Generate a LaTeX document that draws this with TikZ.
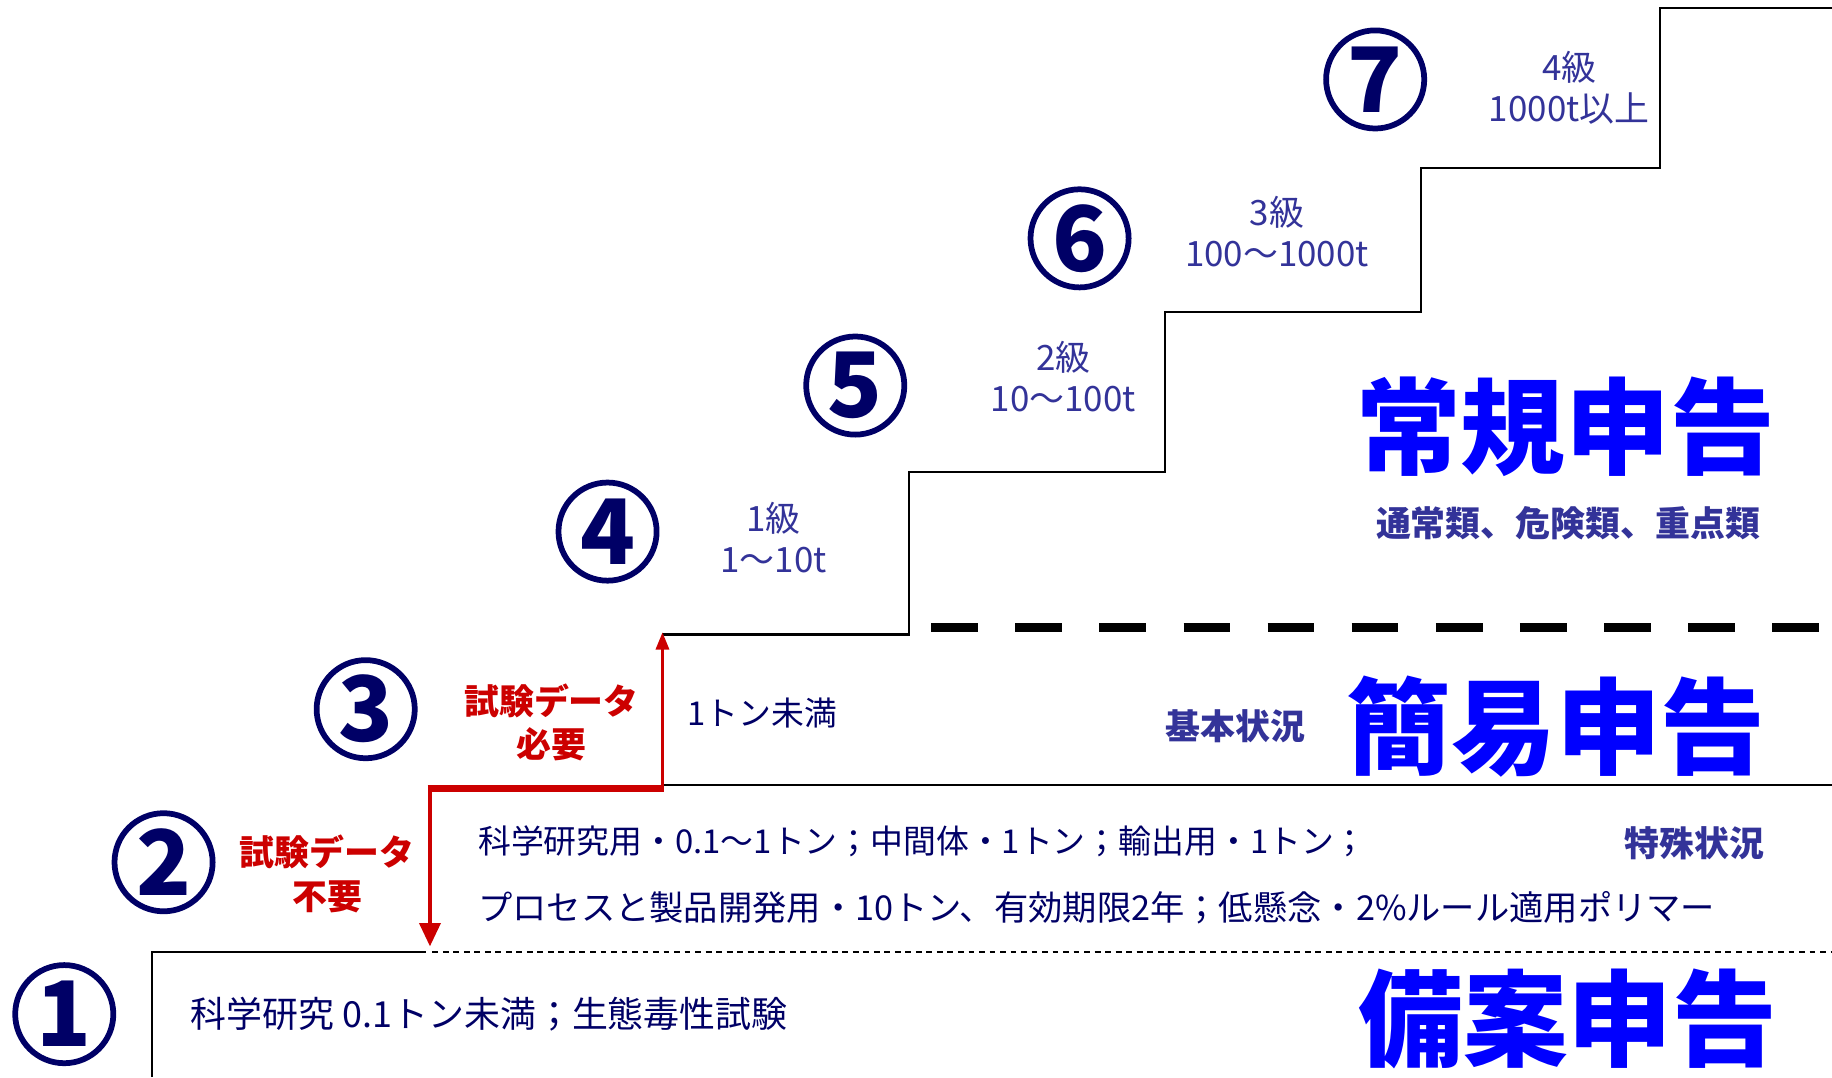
\documentclass[tikz,border=0pt]{standalone}
\usepackage{fontspec}
\setmainfont{Noto Sans CJK JP}
\usepackage{tikz}
\usetikzlibrary{positioning, arrows.meta}
\definecolor{navy}{HTML}{000066}
\definecolor{gradeblue}{HTML}{333399}
\definecolor{titleblue}{HTML}{0000FF}
\definecolor{warnred}{HTML}{CC0000}
\tikzstyle{num} = [circle, draw=navy, line width=2.8pt, minimum size=1.68cm, inner sep=0pt, text=navy, font=\fontsize{44}{44}\selectfont\bfseries]
\tikzstyle{gradetext} = [text=gradeblue, align=center, inner sep=0pt, font=\fontsize{17}{20}\selectfont]
\tikzstyle{bodytext} = [text=navy, anchor=west, inner sep=0pt, font=\fontsize{16}{16}\selectfont]
\tikzstyle{redtext} = [text=warnred, align=center, inner sep=0pt, font=\fontsize{17}{21}\selectfont\bfseries]
\tikzstyle{boldlabel} = [text=gradeblue, inner sep=0pt, font=\fontsize{17}{17}\selectfont\bfseries]
\tikzstyle{bigtitle} = [text=titleblue, inner sep=0pt, font=\fontsize{51}{51}\selectfont\bfseries]
\tikzstyle{stair} = [black, line width=1.1pt]
\tikzstyle{redpath} = [warnred, line width=1.8pt, {Triangle[length=0.4cm,width=0.36cm]}-{Triangle[length=0.3cm,width=0.22cm]}]

\begin{document}
\begin{tikzpicture}[x=0.02cm, y=-0.02cm]
            \useasboundingbox (0,0) rectangle (1568,922);

            % staircase
            \draw[stair] (130,922) -- (130,815) -- (365,815);
            \draw[stair] (567,672) -- (1568,672);
            \draw[stair] (567,543) -- (778,543) -- (778,404) -- (997,404) -- (997,267)
                -- (1216,267) -- (1216,144) -- (1421,144) -- (1421,7) -- (1568,7);
            \draw[black, line width=0.8pt, dash pattern=on 0.1cm off 0.08cm] (370,815) -- (1568,815);
            \draw[black, line width=0.16cm, dash pattern=on 0.8cm off 0.64cm] (797,537) -- (1568,537);

            % test data arrow
            \coordinate(down) at (368,810);
            \coordinate(up) at (567,541);
            \draw[redpath] (down) |- (567,675) -- (up);
            \draw[warnred, line width=3.2pt] (366,675) -- (568,675);

            \node(n1) [num] at (55,868) {1};
            \node(n2) [num] at (140,738) {2};
            \node(n3) [num] at (313,607) {3};
            \node(n4) [num] at (520,455) {4};
            \node(n5) [num] at (732,330) {5};
            \node(n6) [num] at (924,204) {6};
            \node(n7) [num] at (1177,68) {7};

            \node(g1) [gradetext] at (662,460) {1級\\1～10t};
            \node(g2) [gradetext] at (910,322) {2級\\10～100t};
            \node(g3) [gradetext] at (1093,198) {3級\\100～1000t};
            \node(g4) [gradetext] at (1343,75) {4級\\1000t以上};

            \node(need) [redtext] at (472,618) {試験データ\\必要};
            \node(noneed) [redtext] at (280,748) {試験データ\\不要};

            \node(t1) [bodytext, font=\fontsize{17.5}{17.5}\selectfont] at (163,868) {科学研究 0.1トン未満；生態毒性試験};
            \node(t2a) [bodytext] at (409,720) {科学研究用・0.1～1トン；中間体・1トン；輸出用・1トン；};
            \node(t2b) [bodytext, font=\fontsize{16.7}{16.7}\selectfont] at (409,777) {プロセスと製品開発用・10トン、有効期限2年；低懸念・2\%ルール適用ポリマー};
            \node(t3) [bodytext] at (588,610) {1トン未満};

            \node(big4) [bigtitle] at (1340,365) {常規申告};
            \node(big3) [bigtitle] at (1332,622) {簡易申告};
            \node(big1) [bigtitle] at (1342,872) {備案申告};

            \node(s4) [boldlabel] at (1342,448) {通常類、危険類、重点類};
            \node(s3) [boldlabel, left=0.7cm of big3] {基本状況};
            \node(s2) [boldlabel] at (1450,722) {特殊状況};
\end{tikzpicture}
\end{document}
